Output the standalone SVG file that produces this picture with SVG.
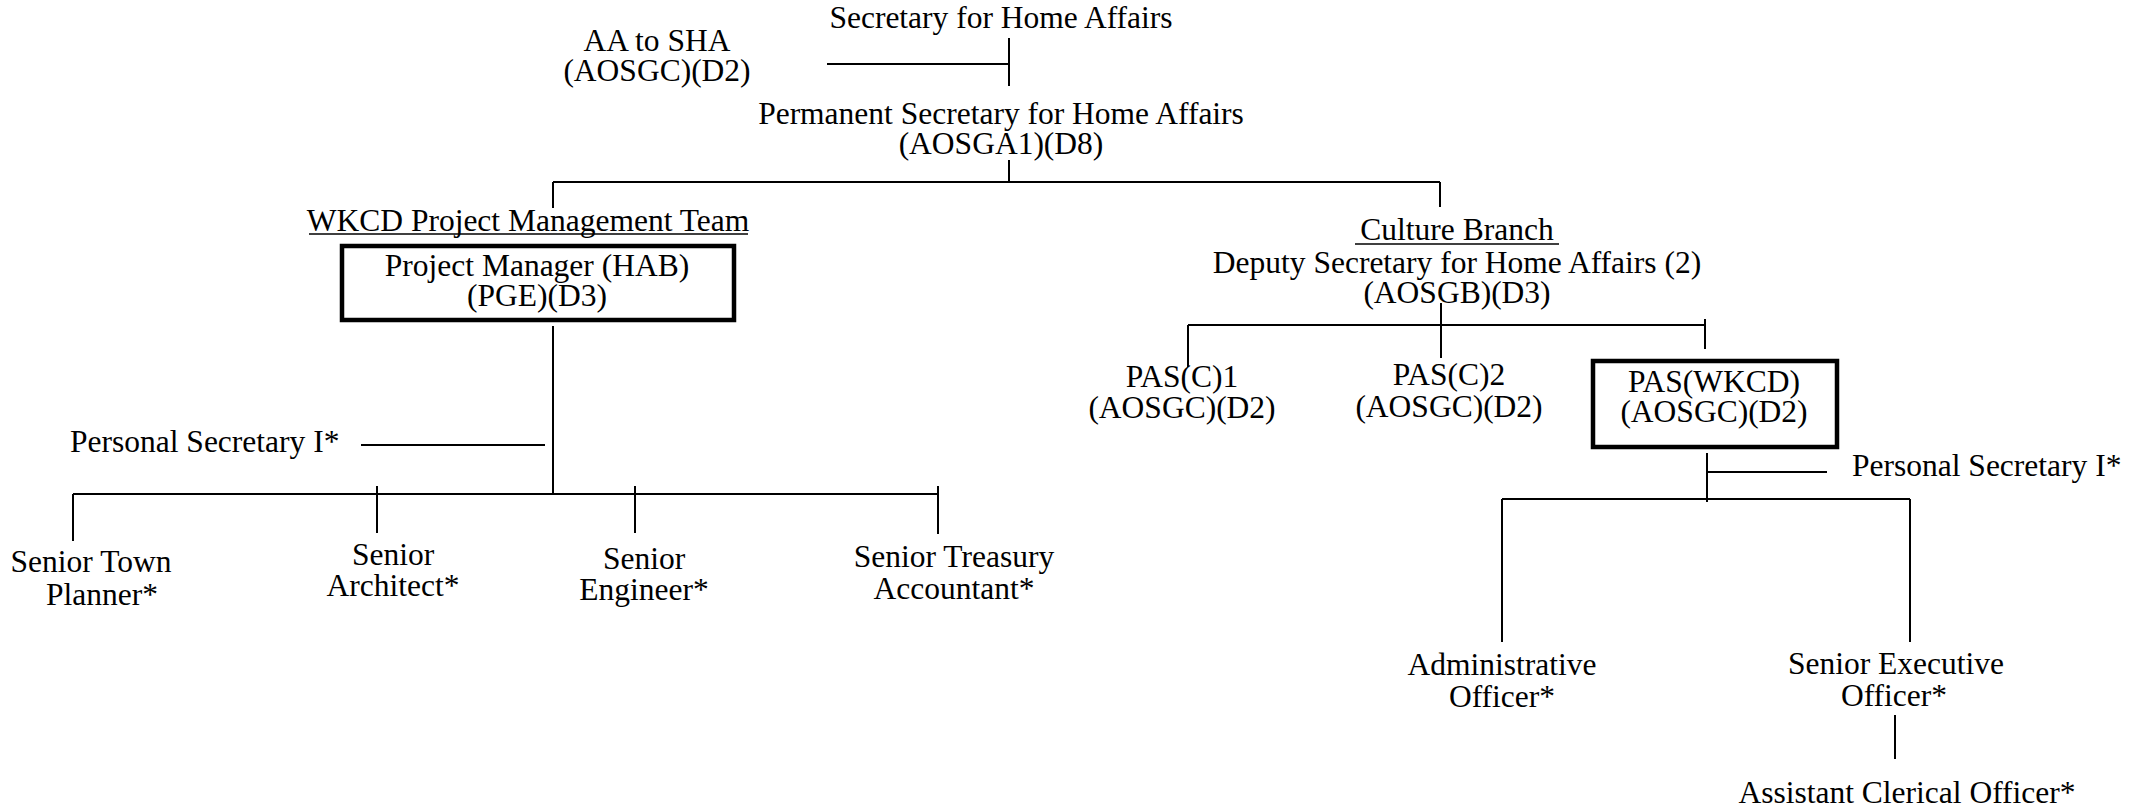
<svg xmlns="http://www.w3.org/2000/svg" width="2147" height="807" viewBox="0 0 2147 807">
<style>
text{font-family:"Liberation Serif","Times New Roman",serif;font-size:31.5px;fill:#000;text-anchor:middle}
.l{text-anchor:start}
.c line{stroke:#000;stroke-width:2}
.box{fill:none;stroke:#000;stroke-width:4.5}
.u{stroke:#000;stroke-width:1.5}
</style>
<rect width="2147" height="807" fill="#fff"/>
<g class="c" id="connectors">
<line x1="1009" y1="38" x2="1009" y2="86"/>
<line x1="827" y1="64" x2="1009" y2="64"/>
<line x1="1009" y1="160" x2="1009" y2="182"/>
<line x1="553" y1="182" x2="1440" y2="182"/>
<line x1="553" y1="182" x2="553" y2="208"/>
<line x1="1440" y1="182" x2="1440" y2="207"/>
<line x1="553" y1="326" x2="553" y2="494"/>
<line x1="361" y1="445" x2="545" y2="445"/>
<line x1="73" y1="494" x2="938" y2="494"/>
<line x1="73" y1="494" x2="73" y2="541"/>
<line x1="377" y1="486" x2="377" y2="533"/>
<line x1="635" y1="486" x2="635" y2="533"/>
<line x1="938" y1="486" x2="938" y2="534"/>
<line x1="1441" y1="303" x2="1441" y2="358"/>
<line x1="1188" y1="325" x2="1705" y2="325"/>
<line x1="1188" y1="325" x2="1188" y2="367"/>
<line x1="1705" y1="319" x2="1705" y2="349"/>
<line x1="1707" y1="453" x2="1707" y2="502"/>
<line x1="1707" y1="472" x2="1827" y2="472"/>
<line x1="1502" y1="499" x2="1910" y2="499"/>
<line x1="1502" y1="499" x2="1502" y2="642"/>
<line x1="1910" y1="499" x2="1910" y2="642"/>
<line x1="1895" y1="715" x2="1895" y2="759"/>
</g>
<g id="sha"><text x="1001" y="28">Secretary for Home Affairs</text></g>
<g id="aa"><text x="657" y="51">AA to SHA</text><text x="657" y="81">(AOSGC)(D2)</text></g>
<g id="ps"><text x="1001" y="124">Permanent Secretary for Home Affairs</text><text x="1001" y="154">(AOSGA1)(D8)</text></g>
<g id="wkcd-team"><text x="528" y="231">WKCD Project Management Team</text><line class="u" x1="309" y1="234" x2="748" y2="234"/></g>
<g id="pm"><rect class="box" x="342" y="246" width="392" height="74"/><text x="537" y="276">Project Manager (HAB)</text><text x="537" y="306">(PGE)(D3)</text></g>
<g id="ps1-left"><text class="l" x="70" y="452">Personal Secretary I*</text></g>
<g id="stp"><text x="91" y="572">Senior Town</text><text x="102" y="605">Planner*</text></g>
<g id="sa"><text x="393" y="565">Senior</text><text x="393" y="596">Architect*</text></g>
<g id="se"><text x="644" y="569">Senior</text><text x="644" y="600">Engineer*</text></g>
<g id="sta"><text x="954" y="567">Senior Treasury</text><text x="954" y="599">Accountant*</text></g>
<g id="culture"><text x="1457" y="240">Culture Branch</text><line class="u" x1="1355" y1="244" x2="1559" y2="244"/><text x="1457" y="273">Deputy Secretary for Home Affairs (2)</text><text x="1457" y="303">(AOSGB)(D3)</text></g>
<g id="pasc1"><text x="1182" y="387">PAS(C)1</text><text x="1182" y="418">(AOSGC)(D2)</text></g>
<g id="pasc2"><text x="1449" y="385">PAS(C)2</text><text x="1449" y="417">(AOSGC)(D2)</text></g>
<g id="paswkcd"><rect class="box" x="1593" y="361" width="244" height="86"/><text x="1714" y="392">PAS(WKCD)</text><text x="1714" y="422">(AOSGC)(D2)</text></g>
<g id="ps1-right"><text class="l" x="1852" y="476">Personal Secretary I*</text></g>
<g id="ao"><text x="1502" y="675">Administrative</text><text x="1502" y="707">Officer*</text></g>
<g id="seo"><text x="1896" y="674">Senior Executive</text><text x="1894" y="706">Officer*</text></g>
<g id="aco"><text x="1907" y="803">Assistant Clerical Officer*</text></g>
</svg>
